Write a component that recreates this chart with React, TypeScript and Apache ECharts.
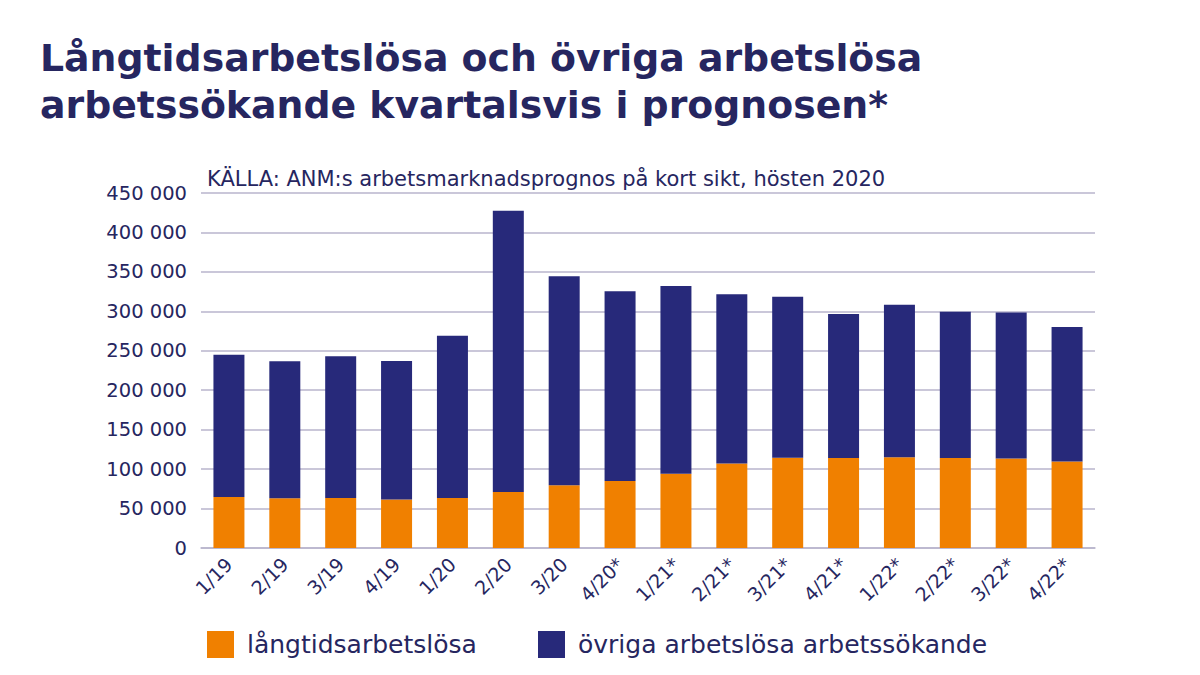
import React, { useEffect, useRef } from "react";
import * as echarts from "echarts";

const categories = ["1/19", "2/19", "3/19", "4/19", "1/20", "2/20", "3/20", "4/20*", "1/21*", "2/21*", "3/21*", "4/21*", "1/22*", "2/22*", "3/22*", "4/22*"];
const longTerm = [64500, 63000, 63500, 61500, 63500, 71000, 79500, 85000, 94000, 107000, 114500, 114000, 115000, 114000, 113500, 109500];
const totals = [245000, 236800, 243000, 237000, 269000, 427500, 344500, 325500, 332000, 321500, 318500, 296500, 308500, 299500, 298500, 280000];
const others = totals.map((t, i) => t - longTerm[i]);
const yTicks = [0, 50000, 100000, 150000, 200000, 250000, 300000, 350000, 400000, 450000];
const seriesNames = ["långtidsarbetslösa", "övriga arbetslösa arbetssökande"];

const NAVY = "#27297a";
const TEXT = "#262660";
const ORANGE = "#f08000";
const FONT = "DejaVu Sans";

export default function App() {
  const ref = useRef<HTMLDivElement>(null);
  useEffect(() => {
    const chart = echarts.init(ref.current!, undefined, { renderer: "svg" });
    const legendBase = {
      top: 631,
      padding: 0,
      itemWidth: 27,
      itemHeight: 27,
      icon: "rect",
      textStyle: { fontFamily: FONT, fontSize: 25, color: TEXT, padding: [0, 0, 0, 8] },
    };
    chart.setOption({
      animation: false,
      backgroundColor: "#ffffff",
      title: {
        text: "Långtidsarbetslösa och övriga arbetslösa\narbetssökande kvartalsvis i prognosen*",
        left: 35,
        top: 29,
        textStyle: { fontFamily: FONT, fontWeight: "bold", fontSize: 37.8, lineHeight: 47, color: TEXT },
      },
      graphic: [
        {
          type: "text",
          left: 207,
          top: 168,
          style: { text: "KÄLLA: ANM:s arbetsmarknadsprognos på kort sikt, hösten 2020", fontFamily: FONT, fontSize: 21, fill: TEXT },
        },
      ],
      legend: [
        { ...legendBase, left: 207, data: [seriesNames[0]] },
        { ...legendBase, left: 538, data: [seriesNames[1]] },
      ],
      grid: { left: 201, right: 105, top: 193, bottom: 127 },
      xAxis: {
        type: "category",
        data: categories,
        axisTick: { show: false },
        axisLine: { lineStyle: { color: "#b8b5cc", width: 1.5 } },
        axisLabel: { rotate: 45, fontFamily: FONT, fontSize: 19, color: TEXT, margin: 13, interval: 0 },
      },
      yAxis: {
        type: "value",
        min: 0,
        max: 450000,
        interval: 50000,
        axisLabel: {
          fontFamily: FONT,
          fontSize: 19.5,
          color: TEXT,
          margin: 14,
          formatter: (v: number) => (yTicks.includes(v) ? (v === 0 ? "0" : String(v / 1000) + " 000") : ""),
        },
        splitLine: { lineStyle: { color: "#b8b5cc", width: 1.5 } },
      },
      series: [
        {
          name: seriesNames[0],
          type: "bar",
          stack: "s",
          data: longTerm,
          barWidth: 31,
          itemStyle: { color: ORANGE },
        },
        {
          name: seriesNames[1],
          type: "bar",
          stack: "s",
          data: others,
          barWidth: 31,
          itemStyle: { color: NAVY },
        },
      ],
    });
    return () => chart.dispose();
  }, []);
  return <div ref={ref} style={{ width: 1200, height: 675, position: "absolute", left: 0, top: 0 }} />;
}
